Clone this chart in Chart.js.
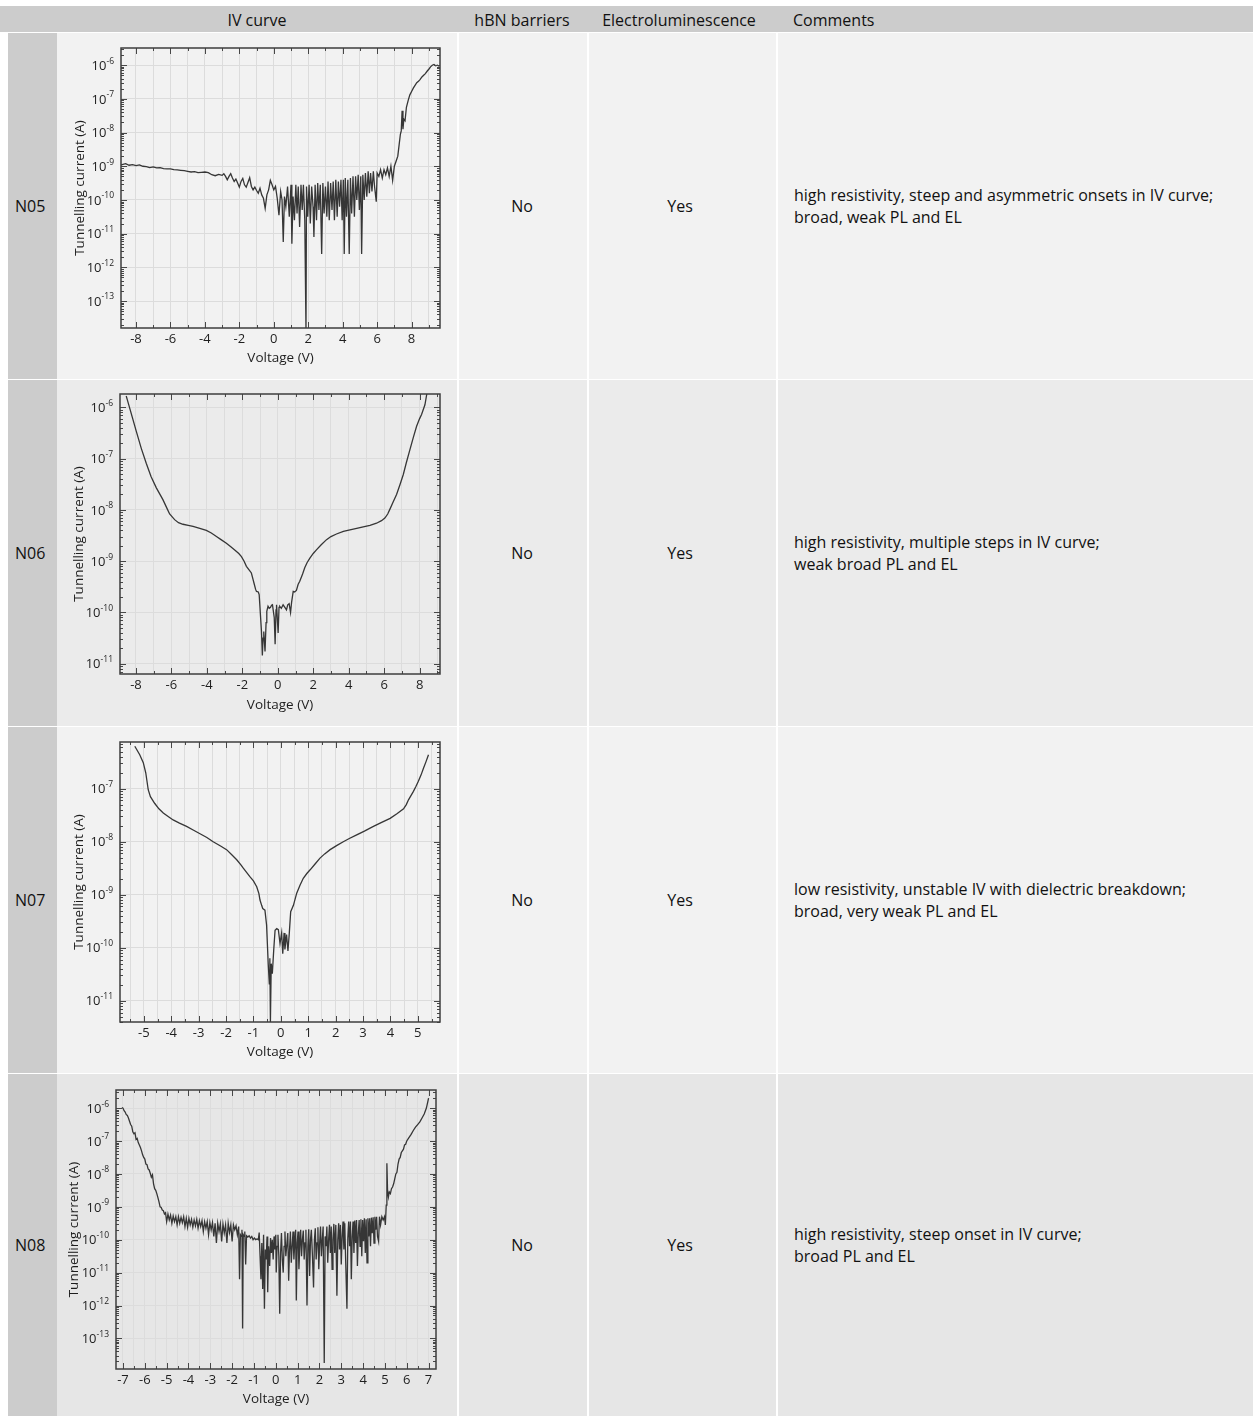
<!DOCTYPE html>
<html>
<head>
<meta charset="utf-8">
<script src="https://cdn.jsdelivr.net/npm/chart.js@4.4.0/dist/chart.umd.min.js"></script>
<style>
body { margin: 0; width: 1253px; height: 1416px; position: relative; background: #fff; font-family: "Open Sans", sans-serif; color: #111; overflow: hidden; }
.hdr { position: absolute; left: 0; top: 6px; width: 1253px; height: 26px; background: #cccccc; }
.hdr span { position: absolute; top: 0; line-height: 28px; font-size: 16px; white-space: nowrap; }
.row { position: absolute; left: 0; width: 1253px; }
.lab { position: absolute; left: 8px; width: 49px; top: 0; bottom: 0; background: #cccccc; }
.txt { position: absolute; font-size: 16px; white-space: nowrap; }
.sep { position: absolute; top: 0; bottom: 0; width: 2px; background: #fff; }
canvas { position: absolute; left: 58px; top: 0; }
</style>
</head>
<body>
<div class="hdr">
  <span style="left:257px;transform:translateX(-50%)">IV curve</span>
  <span style="left:522px;transform:translateX(-50%)">hBN barriers</span>
  <span style="left:679px;transform:translateX(-50%)">Electroluminescence</span>
  <span style="left:793px">Comments</span>
</div>
<div id="rows"></div>
<script>
// table contents
const devices = ['N05', 'N06', 'N07', 'N08'];
const hbnBarriers = ['No', 'No', 'No', 'No'];
const electrolum = ['Yes', 'Yes', 'Yes', 'Yes'];
const comments = [
  ['high resistivity, steep and asymmetric onsets in IV curve;', 'broad, weak PL and EL'],
  ['high resistivity, multiple steps in IV curve;', 'weak broad PL and EL'],
  ['low resistivity, unstable IV with dielectric breakdown;', 'broad, very weak PL and EL'],
  ['high resistivity, steep onset in IV curve;', 'broad PL and EL']
];

// IV sweeps: [voltage (V), log10 of tunnelling current (A)]
const n05Sweep = [
  [-8.87,-8.96],[-8.6,-8.92],[-8.4,-8.97],[-8.2,-8.95],[-8.0,-8.98],[-7.8,-8.96],[-7.6,-9.0],[-7.4,-9.01],
  [-7.2,-9.04],[-7.0,-9.02],[-6.8,-9.05],[-6.6,-9.04],[-6.4,-9.07],[-6.2,-9.08],[-6.0,-9.08],[-5.8,-9.1],
  [-5.6,-9.11],[-5.4,-9.12],[-5.2,-9.13],[-5.0,-9.15],[-4.8,-9.17],[-4.6,-9.16],[-4.4,-9.19],[-4.2,-9.18],
  [-4.0,-9.17],[-3.8,-9.19],[-3.6,-9.25],[-3.4,-9.28],[-3.2,-9.24],[-3.0,-9.27],[-2.9,-9.22],[-2.8,-9.3],
  [-2.7,-9.4],[-2.6,-9.3],[-2.5,-9.22],[-2.4,-9.35],[-2.3,-9.45],[-2.2,-9.38],[-2.1,-9.5],[-2.0,-9.62],
  [-1.9,-9.45],[-1.8,-9.36],[-1.7,-9.55],[-1.6,-9.62],[-1.5,-9.48],[-1.4,-9.34],[-1.3,-9.6],[-1.2,-9.7],
  [-1.1,-9.62],[-1.0,-9.72],[-0.9,-9.8],[-0.8,-9.65],[-0.7,-9.85],[-0.6,-9.95],[-0.5,-10.25],[-0.4,-9.85],
  [-0.3,-9.7],[-0.2,-9.42],[-0.1,-9.55],[0.0,-9.7],[0.1,-9.6],[0.2,-9.95],[0.3,-10.45],[0.4,-9.75],
  [0.48,-10.0],[0.55,-11.25],[0.62,-9.9],[0.7,-10.2],[0.8,-9.6],[0.9,-10.5],[1.0,-9.55],[1.05,-11.3],
  [1.12,-9.9],[1.2,-10.6],[1.28,-9.55],[1.35,-10.4],[1.42,-9.6],[1.5,-10.8],[1.58,-9.55],[1.65,-10.3],
  [1.72,-9.55],[1.8,-10.6],[1.87,-13.85],[1.9,-9.6],[1.97,-10.5],[2.05,-9.55],[2.12,-10.7],[2.2,-9.6],
  [2.28,-10.2],[2.33,-11.1],[2.4,-9.55],[2.48,-10.6],[2.55,-9.5],[2.62,-10.3],[2.7,-9.55],[2.78,-11.6],
  [2.85,-9.5],[2.92,-10.4],[3.0,-9.6],[3.08,-10.5],[3.15,-9.45],[3.22,-10.6],[3.3,-9.5],[3.38,-10.3],
  [3.45,-9.45],[3.52,-10.6],[3.6,-9.4],[3.68,-10.5],[3.75,-9.45],[3.82,-10.2],[3.9,-9.4],[3.97,-10.6],
  [4.04,-9.4],[4.09,-11.6],[4.15,-9.35],[4.22,-10.5],[4.3,-9.4],[4.38,-11.6],[4.45,-9.35],[4.52,-10.4],
  [4.6,-9.3],[4.68,-10.5],[4.75,-9.3],[4.82,-10.0],[4.9,-9.25],[4.97,-10.3],[5.05,-9.3],[5.1,-11.6],
  [5.17,-9.25],[5.25,-10.0],[5.32,-9.2],[5.4,-9.9],[5.48,-9.15],[5.55,-9.8],[5.62,-9.2],[5.7,-9.75],
  [5.78,-9.15],[5.85,-9.6],[5.95,-10.05],[6.0,-9.2],[6.1,-9.3],[6.2,-9.1],[6.3,-9.35],[6.4,-9.1],
  [6.5,-9.25],[6.6,-9.05],[6.7,-9.3],[6.8,-9.0],[6.9,-9.42],[7.0,-9.0],[7.1,-8.85],[7.2,-8.7],
  [7.28,-8.35],[7.35,-8.05],[7.4,-7.95],[7.45,-7.35],[7.5,-7.9],[7.55,-7.6],[7.62,-7.65],[7.7,-7.25],
  [7.8,-7.05],[7.9,-6.88],[8.0,-6.78],[8.1,-6.68],[8.2,-6.6],[8.3,-6.52],[8.4,-6.48],[8.5,-6.42],
  [8.6,-6.35],[8.7,-6.3],[8.8,-6.25],[8.9,-6.18],[9.0,-6.12],[9.1,-6.05],[9.2,-6.0],[9.3,-5.98],
  [9.4,-6.02],[9.5,-6.0],[9.6,-6.03]
];
const n06Sweep = [
  [-8.55,-5.78],[-8.49,-5.85],[-8.2,-6.2],[-7.98,-6.47],[-7.7,-6.8],[-7.42,-7.09],[-7.15,-7.35],[-6.85,-7.57],
  [-6.48,-7.8],[-6.25,-7.97],[-6.1,-8.08],[-5.82,-8.19],[-5.6,-8.25],[-5.35,-8.28],[-5.05,-8.3],[-4.78,-8.32],
  [-4.4,-8.36],[-4.03,-8.4],[-3.75,-8.45],[-3.46,-8.52],[-3.2,-8.58],[-2.9,-8.65],[-2.65,-8.72],[-2.43,-8.78],
  [-2.2,-8.85],[-2.05,-8.91],[-1.9,-9.0],[-1.77,-9.1],[-1.62,-9.17],[-1.49,-9.23],[-1.4,-9.35],[-1.34,-9.43],
  [-1.25,-9.55],[-1.2,-9.59],[-1.1,-9.6],[-1.05,-9.65],[-0.98,-10.04],[-0.92,-10.37],[-0.87,-10.84],[-0.83,-10.5],
  [-0.79,-10.37],[-0.72,-10.76],[-0.66,-10.2],[-0.62,-9.98],[-0.55,-9.88],[-0.48,-9.92],[-0.41,-9.9],[-0.35,-9.86],
  [-0.3,-9.85],[-0.2,-10.1],[-0.15,-10.62],[-0.1,-9.95],[-0.07,-9.85],[0.02,-10.4],[0.07,-9.9],[0.11,-9.88],
  [0.2,-9.92],[0.3,-9.85],[0.4,-9.9],[0.49,-9.95],[0.56,-9.85],[0.64,-9.83],[0.72,-10.0],[0.78,-9.8],
  [0.87,-9.59],[0.95,-9.6],[1.05,-9.57],[1.15,-9.45],[1.24,-9.39],[1.4,-9.25],[1.52,-9.13],[1.65,-9.03],
  [1.81,-8.94],[2.0,-8.85],[2.18,-8.78],[2.45,-8.68],[2.75,-8.58],[3.0,-8.52],[3.31,-8.47],[3.7,-8.42],
  [4.07,-8.39],[4.45,-8.36],[4.82,-8.33],[5.2,-8.3],[5.57,-8.26],[5.85,-8.21],[6.04,-8.16],[6.2,-8.08],
  [6.32,-7.99],[6.5,-7.85],[6.7,-7.7],[6.9,-7.5],[7.08,-7.31],[7.25,-7.08],[7.45,-6.83],[7.65,-6.58],
  [7.83,-6.37],[8.0,-6.22],[8.11,-6.14],[8.3,-5.95],[8.4,-5.75],[8.45,-5.56]
];
const n07Sweep = [
  [-5.33,-6.2],[-5.15,-6.36],[-5.02,-6.51],[-4.93,-6.7],[-4.84,-7.02],[-4.76,-7.15],[-4.6,-7.28],[-4.45,-7.38],
  [-4.29,-7.46],[-4.1,-7.53],[-3.93,-7.59],[-3.7,-7.65],[-3.44,-7.71],[-3.2,-7.78],[-2.95,-7.85],[-2.7,-7.92],
  [-2.47,-8.0],[-2.2,-8.08],[-1.98,-8.15],[-1.8,-8.24],[-1.61,-8.34],[-1.45,-8.44],[-1.37,-8.5],[-1.25,-8.58],
  [-1.13,-8.66],[-1.0,-8.74],[-0.88,-8.85],[-0.8,-8.98],[-0.76,-9.1],[-0.7,-9.2],[-0.66,-9.26],[-0.58,-9.29],
  [-0.52,-9.57],[-0.46,-10.3],[-0.42,-10.68],[-0.4,-10.2],[-0.38,-11.4],[-0.35,-10.3],[-0.31,-10.49],[-0.26,-10.05],
  [-0.21,-9.67],[-0.15,-9.64],[-0.09,-9.66],[-0.03,-9.92],[0.03,-9.72],[0.07,-10.11],[0.12,-9.72],[0.15,-10.03],
  [0.21,-9.75],[0.26,-10.06],[0.31,-9.72],[0.36,-9.32],[0.46,-9.2],[0.58,-8.97],[0.7,-8.82],[0.82,-8.69],
  [0.95,-8.6],[1.07,-8.53],[1.25,-8.42],[1.43,-8.31],[1.6,-8.23],[1.8,-8.15],[2.05,-8.07],[2.28,-8.0],
  [2.5,-7.94],[2.77,-7.87],[3.05,-7.8],[3.38,-7.71],[3.7,-7.63],[3.99,-7.56],[4.25,-7.47],[4.48,-7.38],
  [4.58,-7.3],[4.66,-7.21],[4.75,-7.13],[4.84,-7.05],[4.93,-6.96],[5.02,-6.86],[5.12,-6.74],[5.21,-6.61],
  [5.3,-6.49],[5.39,-6.36]
];
const n08Sweep = [
  [-7.05,-5.98],[-7.0,-6.0],[-6.95,-6.08],[-6.9,-6.12],[-6.85,-6.2],[-6.8,-6.22],[-6.75,-6.3],[-6.7,-6.4],
  [-6.65,-6.5],[-6.6,-6.55],[-6.55,-6.72],[-6.5,-6.78],[-6.45,-6.75],[-6.4,-6.95],[-6.35,-6.92],[-6.3,-7.05],
  [-6.25,-7.12],[-6.2,-7.2],[-6.15,-7.3],[-6.1,-7.42],[-6.05,-7.5],[-6.0,-7.55],[-5.95,-7.7],[-5.9,-7.72],
  [-5.85,-7.85],[-5.8,-7.88],[-5.75,-7.98],[-5.7,-8.1],[-5.65,-8.03],[-5.6,-8.3],[-5.55,-8.45],[-5.5,-8.5],
  [-5.45,-8.6],[-5.4,-8.72],[-5.35,-8.85],[-5.3,-9.0],[-5.25,-9.02],[-5.2,-9.1],[-5.15,-9.12],[-5.1,-9.22],
  [-5.05,-9.18],[-5.0,-9.45],[-4.94,-9.22],[-4.88,-9.4],[-4.82,-9.25],[-4.76,-9.5],[-4.7,-9.28],[-4.64,-9.45],
  [-4.58,-9.3],[-4.52,-9.55],[-4.46,-9.3],[-4.4,-9.5],[-4.34,-9.32],[-4.28,-9.48],[-4.22,-9.3],[-4.16,-9.6],
  [-4.1,-9.35],[-4.04,-9.62],[-3.98,-9.35],[-3.92,-9.55],[-3.86,-9.38],[-3.8,-9.62],[-3.74,-9.4],[-3.68,-9.58],
  [-3.62,-9.38],[-3.56,-9.65],[-3.5,-9.42],[-3.44,-9.6],[-3.38,-9.42],[-3.32,-9.75],[-3.26,-9.45],[-3.2,-9.65],
  [-3.14,-9.45],[-3.08,-9.85],[-3.02,-9.48],[-2.96,-9.7],[-2.9,-9.48],[-2.84,-9.9],[-2.78,-9.5],[-2.72,-10.1],
  [-2.66,-9.5],[-2.6,-9.75],[-2.54,-9.52],[-2.48,-10.05],[-2.42,-9.52],[-2.36,-9.8],[-2.3,-9.55],[-2.24,-10.1],
  [-2.18,-9.5],[-2.12,-9.78],[-2.06,-9.55],[-2.0,-10.05],[-1.94,-9.55],[-1.88,-9.7],[-1.82,-9.58],[-1.76,-9.85],
  [-1.7,-9.6],[-1.66,-11.2],[-1.62,-9.85],[-1.58,-9.9],[-1.55,-9.7],[-1.52,-12.7],[-1.49,-9.85],[-1.45,-9.9],
  [-1.42,-9.75],[-1.38,-10.75],[-1.34,-9.88],[-1.28,-9.92],[-1.22,-9.88],[-1.16,-9.95],[-1.1,-9.9],[-1.04,-10.0],
  [-0.98,-9.95],[-0.92,-10.0],[-0.86,-9.98],[-0.8,-10.0],[-0.76,-9.78],[-0.72,-10.5],[-0.68,-11.2],[-0.64,-10.1],
  [-0.6,-11.5],[-0.56,-9.85],[-0.52,-12.1],[-0.48,-10.3],[-0.44,-10.6],[-0.4,-9.9],[-0.37,-11.6],[-0.33,-10.2],
  [-0.28,-10.8],[-0.24,-9.95],[-0.2,-10.4],[-0.16,-10.0],[-0.12,-10.6],[-0.08,-9.9],[-0.04,-10.3],[0.0,-9.85],
  [0.02,-11.0],[0.06,-10.2],[0.1,-9.85],[0.14,-10.5],[0.18,-12.25],[0.22,-10.4],[0.26,-9.8],[0.3,-10.6],
  [0.34,-11.0],[0.38,-10.2],[0.42,-9.75],[0.46,-10.5],[0.5,-10.2],[0.55,-9.8],[0.59,-11.25],[0.63,-10.3],
  [0.67,-9.75],[0.71,-10.7],[0.75,-10.2],[0.79,-9.75],[0.83,-10.6],[0.87,-10.1],[0.91,-9.7],[0.94,-11.85],
  [0.98,-10.1],[1.02,-9.75],[1.06,-10.9],[1.1,-10.2],[1.14,-9.7],[1.18,-10.5],[1.22,-10.0],[1.26,-9.72],
  [1.3,-10.6],[1.34,-10.1],[1.38,-9.7],[1.43,-12.0],[1.47,-10.2],[1.51,-9.68],[1.55,-11.1],[1.59,-10.0],
  [1.63,-9.7],[1.68,-10.5],[1.73,-11.45],[1.77,-10.0],[1.81,-9.65],[1.85,-10.6],[1.89,-10.1],[1.93,-9.62],
  [1.97,-10.9],[2.01,-10.1],[2.05,-9.6],[2.09,-10.5],[2.13,-10.0],[2.17,-9.6],[2.22,-13.75],[2.26,-9.9],
  [2.3,-10.2],[2.34,-9.6],[2.38,-10.7],[2.42,-10.0],[2.46,-9.55],[2.5,-10.4],[2.54,-9.6],[2.58,-10.9],
  [2.62,-10.0],[2.66,-9.52],[2.7,-10.4],[2.75,-9.55],[2.8,-11.7],[2.84,-10.0],[2.88,-9.5],[2.92,-10.3],
  [2.96,-9.55],[3.0,-10.75],[3.04,-9.9],[3.08,-9.45],[3.12,-10.3],[3.16,-9.5],[3.2,-10.6],[3.26,-12.1],
  [3.3,-9.95],[3.34,-9.45],[3.38,-10.2],[3.42,-9.45],[3.46,-11.2],[3.5,-9.9],[3.54,-9.45],[3.58,-10.4],
  [3.62,-9.42],[3.66,-10.1],[3.7,-9.4],[3.74,-10.8],[3.78,-9.8],[3.82,-9.4],[3.86,-10.2],[3.9,-9.38],
  [3.94,-10.5],[3.98,-9.4],[4.02,-10.05],[4.06,-9.35],[4.1,-10.4],[4.14,-9.38],[4.18,-10.7],[4.22,-9.35],
  [4.26,-9.9],[4.3,-9.35],[4.34,-10.2],[4.38,-9.33],[4.42,-9.8],[4.46,-9.32],[4.5,-10.1],[4.54,-9.3],
  [4.58,-9.7],[4.62,-9.3],[4.66,-9.9],[4.71,-10.05],[4.75,-9.3],[4.8,-9.55],[4.86,-9.3],[4.92,-9.4],
  [4.98,-9.3],[5.02,-9.55],[5.06,-8.95],[5.09,-7.68],[5.12,-8.5],[5.16,-8.7],[5.2,-8.55],[5.25,-8.6],
  [5.3,-8.45],[5.35,-8.4],[5.4,-8.3],[5.45,-8.15],[5.5,-8.0],[5.55,-7.95],[5.6,-7.7],[5.65,-7.55],
  [5.7,-7.5],[5.75,-7.35],[5.8,-7.3],[5.85,-7.25],[5.9,-7.12],[5.95,-7.1],[6.0,-7.0],[6.1,-6.9],
  [6.2,-6.8],[6.3,-6.68],[6.4,-6.58],[6.5,-6.5],[6.6,-6.42],[6.7,-6.3],[6.8,-6.18],[6.9,-6.0],[7.0,-5.7]
];

// axis ranges and ticks
const n05XRange = [-8.87, 9.65], n05YRange = [-13.8, -5.49];
const n06XRange = [-8.9, 9.15], n06YRange = [-11.2, -5.74];
const n07XRange = [-5.87, 5.81], n07YRange = [-11.4, -6.12];
const n08XRange = [-7.32, 7.34], n08YRange = [-13.93, -5.45];
const n05XTicks = [-8,-7,-6,-5,-4,-3,-2,-1,0,1,2,3,4,5,6,7,8,9];
const n05XLabels = [-8,-6,-4,-2,0,2,4,6,8];
const n06XTicks = [-8,-7,-6,-5,-4,-3,-2,-1,0,1,2,3,4,5,6,7,8,9];
const n06XLabels = [-8,-6,-4,-2,0,2,4,6,8];
const n07XTicks = [-5.5,-5,-4.5,-4,-3.5,-3,-2.5,-2,-1.5,-1,-0.5,0,0.5,1,1.5,2,2.5,3,3.5,4,4.5,5,5.5];
const n07XLabels = [-5,-4,-3,-2,-1,0,1,2,3,4,5];
const n08XTicks = [-7,-6.5,-6,-5.5,-5,-4.5,-4,-3.5,-3,-2.5,-2,-1.5,-1,-0.5,0,0.5,1,1.5,2,2.5,3,3.5,4,4.5,5,5.5,6,6.5,7];
const n08XLabels = [-7,-6,-5,-4,-3,-2,-1,0,1,2,3,4,5,6,7];
const n05Decades = [-13,-12,-11,-10,-9,-8,-7,-6];
const n06Decades = [-11,-10,-9,-8,-7,-6];
const n07Decades = [-11,-10,-9,-8,-7];
const n08Decades = [-13,-12,-11,-10,-9,-8,-7,-6];
const logMinor = [2,3,4,5,6,7,8,9];

// row geometry
const rowTops = [33, 380, 727, 1074];
const rowHeights = [346, 346, 346, 342];
const rowColors = ['#f2f2f2', '#ebebeb', '#f2f2f2', '#e6e6e6'];
// plot area inside each 400px wide canvas
const plotBoxes = [
  {left: 63, right: 382, top: 15, bottom: 295, yTitle: 22, xTitle: 21},
  {left: 62, right: 382, top: 14, bottom: 294, yTitle: 21, xTitle: 21},
  {left: 62, right: 382, top: 15, bottom: 295, yTitle: 21, xTitle: 21},
  {left: 58, right: 378, top: 16, bottom: 295, yTitle: 16, xTitle: 17}
];

const FONT = '"Open Sans", sans-serif';
const rowsEl = document.getElementById('rows');
devices.forEach((name, i) => {
  const r = document.createElement('div');
  r.className = 'row';
  r.style.top = rowTops[i] + 'px';
  r.style.height = rowHeights[i] + 'px';
  r.style.background = rowColors[i];
  const mid = rowHeights[i] / 2;
  r.innerHTML =
    '<div style="position:absolute;left:0;top:0;bottom:0;width:8px;background:#fff"></div>' +
    '<div class="lab"></div>' +
    '<div class="txt" style="left:15px;top:' + (mid - 11) + 'px;line-height:22px">' + name + '</div>' +
    '<div class="sep" style="left:457px"></div><div class="sep" style="left:587px"></div><div class="sep" style="left:776px"></div>' +
    '<div class="txt" style="left:522px;transform:translateX(-50%);top:' + (mid - 11) + 'px;line-height:22px">' + hbnBarriers[i] + '</div>' +
    '<div class="txt" style="left:680px;transform:translateX(-50%);top:' + (mid - 11) + 'px;line-height:22px">' + electrolum[i] + '</div>' +
    '<div class="txt" style="left:794px;top:' + (mid - 22) + 'px;line-height:22px">' + comments[i].join('<br>') + '</div>' +
    '<canvas id="iv' + i + '" width="400" height="' + rowHeights[i] + '"></canvas>';
  rowsEl.appendChild(r);
});

// frame with inward ticks on all four sides, and 10^n labels
const frameTicks = {
  id: 'frameTicks',
  afterDatasetsDraw(chart, args, opts) {
    const {ctx, chartArea: a, scales: {x, y}} = chart;
    ctx.save();
    ctx.strokeStyle = '#474747';
    ctx.lineWidth = 1;
    const seg = (x1, y1, x2, y2) => { ctx.beginPath(); ctx.moveTo(x1, y1); ctx.lineTo(x2, y2); ctx.stroke(); };
    opts.xTicks.forEach(v => {
      const px = Math.round(x.getPixelForValue(v)) + 0.5;
      const len = opts.xLabels.includes(v) ? 6 : 3;
      seg(px, a.bottom, px, a.bottom - len);
      seg(px, a.top, px, a.top + len);
    });
    const lo = Math.floor(opts.yRange[0]), hi = Math.ceil(opts.yRange[1]);
    for (let e = lo; e <= hi; e++) {
      const major = y.getPixelForValue(Math.pow(10, e));
      if (major >= a.top && major <= a.bottom) {
        const py = Math.round(major) + 0.5;
        seg(a.left, py, a.left + 6, py);
        seg(a.right, py, a.right - 6, py);
      }
      logMinor.forEach(k => {
        const p = y.getPixelForValue(k * Math.pow(10, e));
        if (p < a.top || p > a.bottom) return;
        const py = Math.round(p) + 0.5;
        seg(a.left, py, a.left + 3, py);
        seg(a.right, py, a.right - 3, py);
      });
    }
    ctx.lineWidth = 1.5;
    ctx.strokeStyle = '#3e3e3e';
    ctx.strokeRect(a.left, a.top, a.right - a.left, a.bottom - a.top);

    // decade labels with superscript exponent
    ctx.fillStyle = '#1e1e1e';
    ctx.textBaseline = 'middle';
    ctx.textAlign = 'right';
    opts.decades.forEach(e => {
      const py = y.getPixelForValue(Math.pow(10, e));
      const xr = a.left - 7;
      ctx.font = '8.5px ' + FONT;
      const exp = String(e);
      const w = ctx.measureText(exp).width;
      ctx.fillText(exp, xr, py - 4);
      ctx.font = '13px ' + FONT;
      ctx.fillText('10', xr - w, py + 1);
    });
    ctx.restore();
  }
};

function drawSweep(idx, sweep, xRange, yRange, xTicks, xLabels, decades) {
  const box = plotBoxes[idx];
  const H = rowHeights[idx];
  new Chart(document.getElementById('iv' + idx), {
    type: 'line',
    data: {
      datasets: [{
        data: sweep.map(p => ({x: p[0], y: Math.pow(10, p[1])})),
        borderColor: '#363636',
        borderWidth: 1.3,
        pointRadius: 0,
        tension: 0,
        fill: false
      }]
    },
    options: {
      responsive: false,
      animation: false,
      devicePixelRatio: 1,
      layout: {padding: {left: 0, top: box.top, right: 400 - box.right, bottom: 0}},
      plugins: {
        legend: {display: false},
        tooltip: {enabled: false},
        frameTicks: {xTicks, xLabels, decades, yRange}
      },
      scales: {
        x: {
          type: 'linear',
          min: xRange[0],
          max: xRange[1],
          border: {display: false},
          grid: {color: '#dcdcdc', lineWidth: 1, drawTicks: false},
          afterBuildTicks: s => { s.ticks = xTicks.map(v => ({value: v})); },
          afterFit: s => { s.height = H - box.bottom; },
          ticks: {
            autoSkip: false, maxRotation: 0, padding: 3, color: '#1e1e1e',
            font: {family: FONT, size: 13},
            callback: v => xLabels.includes(v) ? String(v) : ''
          },
          title: {display: true, text: 'Voltage (V)', color: '#1e1e1e', font: {family: FONT, size: 13.5},
                  padding: {top: 0, bottom: box.xTitle - 8}}
        },
        y: {
          type: 'logarithmic',
          min: Math.pow(10, yRange[0]),
          max: Math.pow(10, yRange[1]),
          border: {display: false},
          grid: {color: '#dcdcdc', lineWidth: 1, drawTicks: false},
          afterBuildTicks: s => { s.ticks = decades.map(e => ({value: Math.pow(10, e)})); },
          afterFit: s => { s.width = box.left; },
          ticks: {display: false},
          title: {display: true, text: 'Tunnelling current (A)', color: '#1e1e1e', font: {family: FONT, size: 13.5},
                  padding: {top: box.yTitle - 8, bottom: 0}}
        }
      }
    },
    plugins: [frameTicks]
  });
}

drawSweep(0, n05Sweep, n05XRange, n05YRange, n05XTicks, n05XLabels, n05Decades);
drawSweep(1, n06Sweep, n06XRange, n06YRange, n06XTicks, n06XLabels, n06Decades);
drawSweep(2, n07Sweep, n07XRange, n07YRange, n07XTicks, n07XLabels, n07Decades);
drawSweep(3, n08Sweep, n08XRange, n08YRange, n08XTicks, n08XLabels, n08Decades);
</script>
</body>
</html>
